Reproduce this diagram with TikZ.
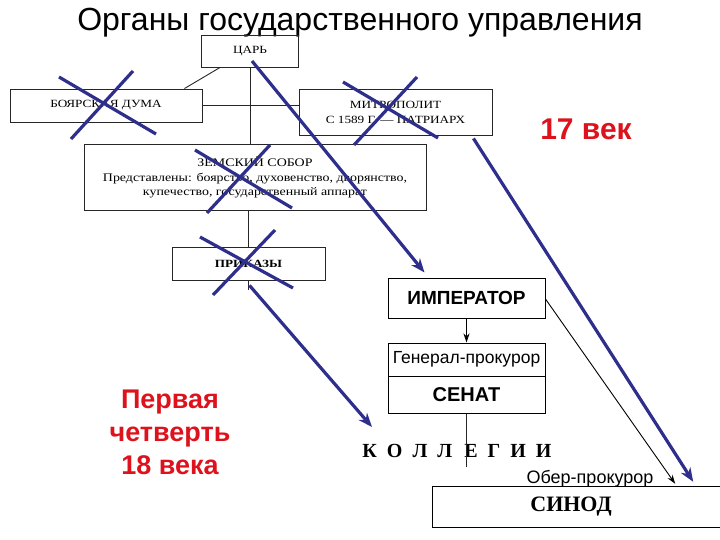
\documentclass[tikz,border=0pt]{standalone}
\usepackage{fontspec}
\usepackage{tikz}
\usetikzlibrary{arrows.meta}
\setmainfont{Liberation Sans}
\newfontfamily\bookfont{Liberation Serif}[FakeStretch=1.2]
\newfontfamily\plainserif{Liberation Serif}
\definecolor{crossblue}{RGB}{46,46,140}
\definecolor{agered}{RGB}{222,18,28}

\begin{document}
\begin{tikzpicture}[x=1pt, y=-1pt,
    oldbox/.style={draw=black!85, line width=0.9pt, inner sep=0pt, align=center, font=\bookfont\fontsize{11}{15}\selectfont},
    newbox/.style={draw=black, line width=1pt, inner sep=0pt, align=center},
    link/.style={draw=black!85, line width=0.9pt},
    strike/.style={draw=crossblue, line width=3.2pt},
    bluearrow/.style={draw=crossblue, line width=3.2pt, -{Stealth[length=14pt,width=11pt]}},
    blackarrow/.style={draw=black, line width=0.9pt, -{Stealth[length=9pt,width=6pt]}},
    agelabel/.style={text=agered, font=\bfseries\fontsize{27}{33}\selectfont, align=center, inner sep=0pt}]
        \useasboundingbox (0,0) rectangle (720,540);
        \clip (0,0) rectangle (720,540);

        % Title
        \node[anchor=base, inner sep=0pt, font=\fontsize{32}{34}\selectfont] (title) at (360,31) {Органы государственного управления};

        % 17th century scheme
        \node[oldbox, minimum width=97, minimum height=32] (tsar) at (250,51) {ЦАРЬ};
        \node[oldbox, minimum width=192, minimum height=33] (duma) at (106,105.5) {БОЯРСКАЯ ДУМА};
        \node[oldbox, minimum width=193, minimum height=46] (metro) at (395.5,112) {МИТРОПОЛИТ\\С 1589 Г. — ПАТРИАРХ};
        \node[oldbox, minimum width=342, minimum height=66, font=\bookfont\fontsize{11.6}{14.5}\selectfont] (sobor) at (255,177.5) {ЗЕМСКИЙ СОБОР\\Представлены: боярство, духовенство, дворянство,\\купечество, государственный аппарат};
        \node[oldbox, minimum width=153, minimum height=33, font=\bookfont\bfseries\fontsize{11}{12}\selectfont] (prikazy) at (248.5,263.5) {ПРИКАЗЫ};

        \draw[link] ([xshift=19pt]tsar.south west) -- ([xshift=-18pt]duma.north east);
        \draw[link] (duma.east) -- (duma.east -| metro.west);
        \draw[link] (tsar.south) -- (tsar.south |- sobor.north);
        \draw[link] (prikazy.north |- sobor.south) -- (prikazy.north);
        \draw[link] (prikazy.south) -- ++(0,10);

        % first quarter of the 18th century
        \node[newbox, minimum width=157, minimum height=40, font=\bfseries\fontsize{19}{21}\selectfont] (imperator) at (466.5,298) {ИМПЕРАТОР};
        \node[newbox, minimum width=157, minimum height=33, font=\fontsize{17.5}{19}\selectfont] (genprok) at (466.5,359.5) {Генерал-прокурор};
        \node[newbox, minimum width=157, minimum height=37, font=\bfseries\fontsize{20}{22}\selectfont] (senat) at (466.5,394.5) {СЕНАТ};
        \node[inner sep=0pt, font=\plainserif\bfseries\fontsize{20}{22}\selectfont] (kollegii) at (457,451) {К\hspace{10pt}О\hspace{10pt}Л\hspace{10pt}Л\hspace{12pt}Е\hspace{10pt}Г\hspace{10pt}И\hspace{10pt}И};
        \coordinate (kolend) at (466.5,467);
        \coordinate (kolin) at (372,427);
        \node[inner sep=0pt, minimum width=276, minimum height=40, font=\plainserif\bfseries\fontsize{22}{24}\selectfont] (sinod) at (571,507) {СИНОД};
        \node[anchor=base, inner sep=0pt, font=\fontsize{18}{20}\selectfont] (oberprok) at (590,483) {Обер-прокурор};

        \draw[newbox] ([xshift=14pt]sinod.north east) -- (sinod.north west) -- (sinod.south west) -- ([xshift=14pt]sinod.south east);
        \draw[blackarrow] (imperator.south) -- (genprok.north);
        \draw[link] (senat.south) -- (kolend);
        \draw[blackarrow] ([yshift=-1pt]imperator.east) -- ([xshift=-34pt,yshift=3pt]sinod.north east);

        % cross out
        \draw[strike] (59,77) -- (156,134);
        \draw[strike] (133,71) -- (71,139);
        \draw[strike] (343,82) -- (438,138);
        \draw[strike] (417,77) -- (354,145);
        \draw[strike] (195,150) -- (292,208);
        \draw[strike] (270,145) -- (207,213);
        \draw[strike] (200,237) -- (293,288);
        \draw[strike] (275,230) -- (213,295);

        % what replaced what
        \draw[bluearrow] ([xshift=2pt,yshift=-10pt]tsar.center) -- ([xshift=37pt,yshift=5pt]imperator.north west);
        \draw[bluearrow] ([xshift=1pt,yshift=-5pt]prikazy.south) -- (kolin);
        \draw[bluearrow] ([xshift=-19pt,yshift=-3pt]metro.south east) -- ([xshift=-16pt,yshift=5pt]sinod.north east);

        % periods
        \node[agelabel, anchor=base, font=\bfseries\fontsize{30}{32}\selectfont] (age17) at (586,140) {17 век};
        \node[agelabel] (age18) at (170,432) {Первая\\четверть\\18 века};
\end{tikzpicture}
\end{document}
